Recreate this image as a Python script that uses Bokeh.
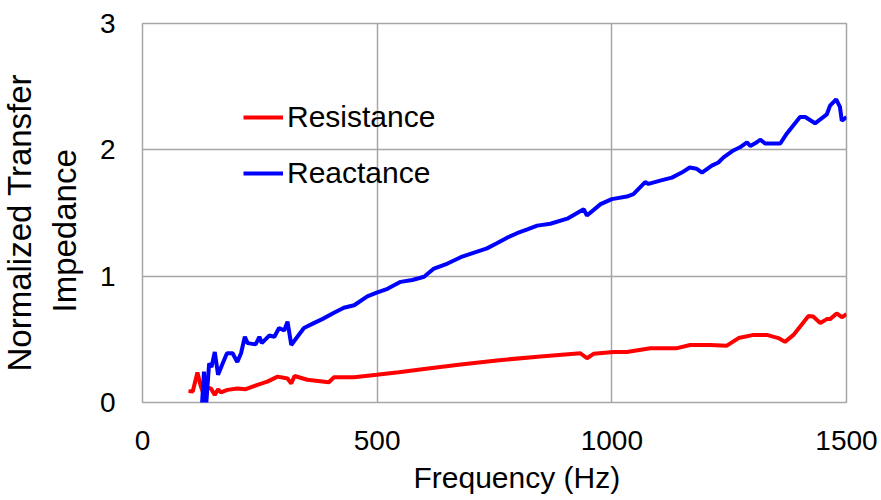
from bokeh.plotting import figure
from bokeh.models import FixedTicker, Range1d, Title
from bokeh.embed import file_html
from bokeh.resources import INLINE

# Data
freq_res = [98, 107, 117, 124, 130, 138, 146, 154, 161, 167, 181, 202, 220, 245, 266, 288,
            309, 317, 324, 351, 397, 408, 451, 499, 546, 600, 678, 760, 848, 933, 947, 961,
            1004, 1032, 1082, 1139, 1167, 1210, 1245, 1270, 1302, 1330, 1355, 1369, 1387,
            1419, 1429, 1444, 1458, 1465, 1479, 1490, 1500]
resistance = [0.09, 0.087, 0.237, 0.13, 0.07, 0.12, 0.11, 0.06, 0.105, 0.08, 0.10, 0.11, 0.105,
              0.14, 0.165, 0.205, 0.19, 0.15, 0.21, 0.18, 0.16, 0.20, 0.20, 0.22, 0.24, 0.265,
              0.30, 0.335, 0.365, 0.39, 0.35, 0.385, 0.40, 0.40, 0.43, 0.43, 0.455, 0.455, 0.45,
              0.51, 0.535, 0.535, 0.51, 0.48, 0.535, 0.685, 0.68, 0.63, 0.66, 0.66, 0.705,
              0.675, 0.70]

freq_rea = [100, 110, 120, 127, 131, 135, 142, 147, 154, 161, 171, 180, 192, 202, 210, 218, 224,
            241, 249, 254, 270, 281, 291, 302, 309, 317, 330, 344, 366, 383, 408, 429, 451, 479,
            499, 522, 550, 575, 600, 621, 650, 678, 705, 734, 755, 777, 798, 820, 841, 869, 905,
            940, 947, 976, 1000, 1032, 1046, 1071, 1078, 1107, 1128, 1149, 1166, 1181, 1192,
            1213, 1227, 1238, 1259, 1273, 1288, 1295, 1309, 1316, 1327, 1359, 1373, 1401, 1412,
            1433, 1458, 1465, 1478, 1486, 1490, 1500]
reactance = [-0.01, -0.15, -0.2, 0.0, 0.245, -0.05, 0.31, 0.28, 0.40, 0.22, 0.31, 0.39, 0.39,
             0.32, 0.39, 0.52, 0.47, 0.46, 0.52, 0.47, 0.53, 0.52, 0.59, 0.57, 0.64, 0.455, 0.52,
             0.59, 0.63, 0.66, 0.71, 0.75, 0.77, 0.84, 0.87, 0.90, 0.955, 0.97, 0.995, 1.06, 1.10,
             1.15, 1.185, 1.22, 1.26, 1.305, 1.34, 1.37, 1.40, 1.415, 1.455, 1.53, 1.48, 1.57,
             1.61, 1.63, 1.65, 1.745, 1.73, 1.76, 1.78, 1.82, 1.86, 1.85, 1.82, 1.875, 1.90,
             1.94, 1.995, 2.02, 2.06, 2.03, 2.06, 2.08, 2.05, 2.05, 2.13, 2.26, 2.26, 2.21, 2.28,
             2.35, 2.40, 2.34, 2.23, 2.26]

x_ticks = [0, 500, 1000, 1500]
y_ticks = [0, 1, 2, 3]
x_title = "Frequency (Hz)"
y_title_lines = ["Normalized Transfer", "Impedance"]

FONT = "Liberation Sans"
GRID = "#A6A6A6"

p = figure(width=881, height=500, output_backend="svg", toolbar_location=None,
           x_range=Range1d(0, 1500), y_range=Range1d(0, 3),
           min_border_left=142, min_border_right=35, min_border_top=23, min_border_bottom=97)

p.line(freq_res, resistance, line_color="#FF0000", line_width=4, legend_label="Resistance")
p.line(freq_rea, reactance, line_color="#0000FF", line_width=4, legend_label="Reactance")

p.xaxis.ticker = FixedTicker(ticks=x_ticks)
p.yaxis.ticker = FixedTicker(ticks=y_ticks)

for ax in (p.xaxis, p.yaxis):
    ax.major_label_text_font = FONT
    ax.major_label_text_font_size = "28px"
    ax.major_label_text_color = "black"
    ax.major_tick_line_color = None
    ax.minor_tick_line_color = None
    ax.major_tick_out = 0
    ax.major_tick_in = 0
    ax.minor_tick_out = 0
    ax.minor_tick_in = 0
    ax.axis_line_color = None

p.xaxis.major_label_standoff = 28
p.yaxis.major_label_standoff = 27

# axis titles (offset to match the reference placement)
xt = Title(text=x_title, align="left", offset=271, standoff=13,
           text_font=FONT, text_font_size="30px", text_font_style="normal", text_color="black")
p.add_layout(xt, "below")
yt2 = Title(text=y_title_lines[1], align="left", offset=90, standoff=28,
            text_font=FONT, text_font_size="33px", text_font_style="normal", text_color="black")
p.add_layout(yt2, "left")
yt1 = Title(text=y_title_lines[0], align="left", offset=31, standoff=-17,
            text_font=FONT, text_font_size="33px", text_font_style="normal", text_color="black")
p.add_layout(yt1, "left")

p.xgrid.grid_line_color = GRID
p.ygrid.grid_line_color = GRID
p.xgrid.grid_line_width = 1.5
p.ygrid.grid_line_width = 1.5
p.outline_line_color = GRID
p.outline_line_width = 1.5
p.background_fill_color = "white"
p.border_fill_color = "white"

lg = p.legend[0]
lg.location = (101, 212)
lg.background_fill_alpha = 0
lg.border_line_color = None
lg.padding = 0
lg.margin = 0
lg.glyph_width = 40
lg.glyph_height = 34
lg.label_height = 34
lg.label_standoff = 4
lg.spacing = 22
lg.label_text_font = FONT
lg.label_text_font_size = "30px"
lg.label_text_color = "black"

open("out.html", "w").write(file_html(p, INLINE))
